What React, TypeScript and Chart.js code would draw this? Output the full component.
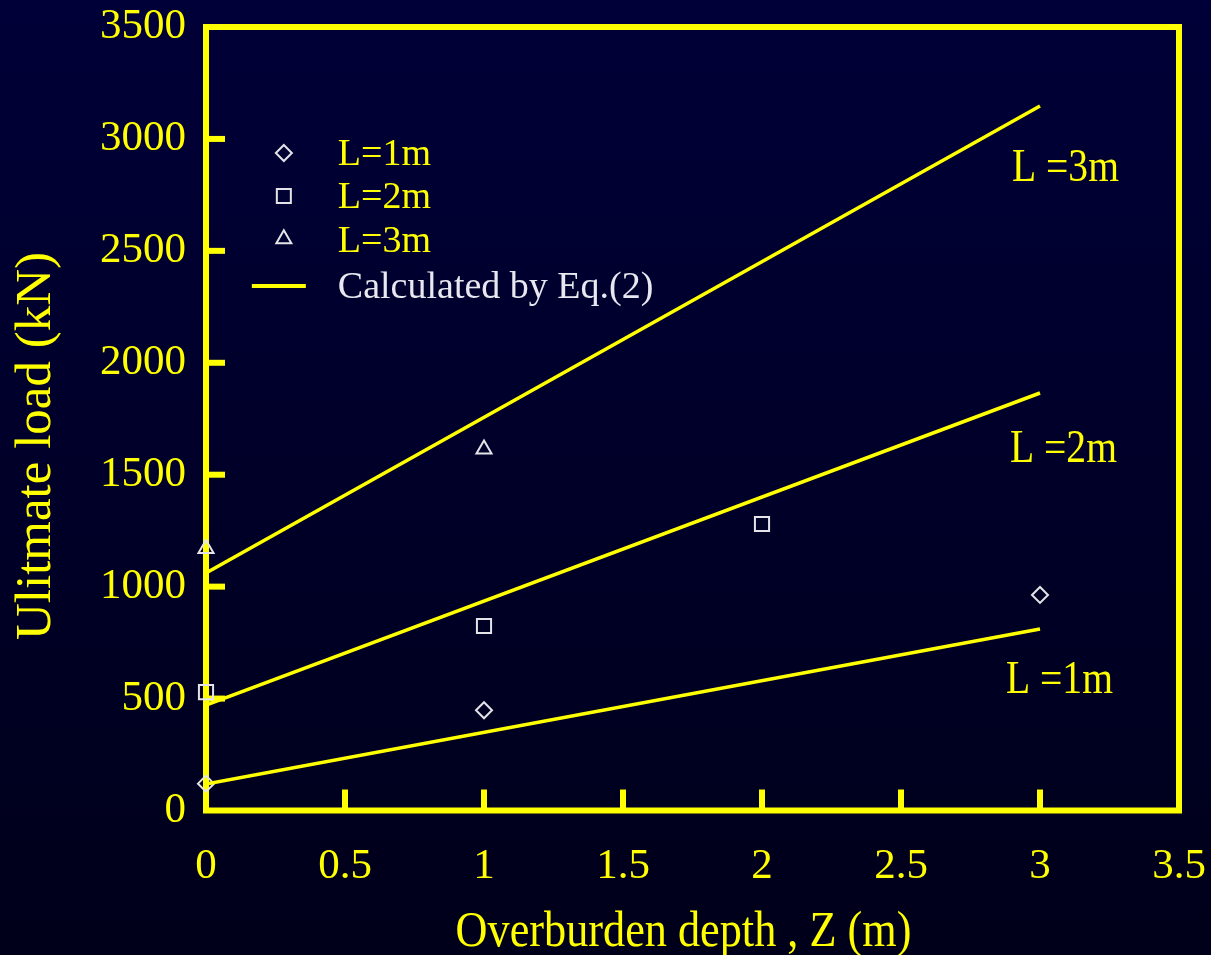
import React, { useEffect, useRef } from "react";
import { Chart, registerables } from "chart.js";

Chart.register(...registerables);

// ---- data ----
const depthL1 = [0, 1, 3];
const loadL1 = [120, 448, 963];
const depthL2 = [0, 1, 2];
const loadL2 = [529, 824, 1280];
const depthL3 = [0, 1];
const loadL3 = [1170, 1614];

const calcDepth = [0, 3];
const calcL1 = [118, 811];
const calcL2 = [471, 1865];
const calcL3 = [1061, 3147];

const xTicks = [0, 0.5, 1, 1.5, 2, 2.5, 3, 3.5];
const yTicks = [0, 500, 1000, 1500, 2000, 2500, 3000, 3500];

const seriesNames = ["L=1m", "L=2m", "L=3m"];
const calcName = "Calculated by Eq.(2)";
const curveLabels = ["L =1m", "L =2m", "L =3m"];
const xTitle = "Overburden depth , Z (m)";
const yTitle = "Ulitmate load (kN)";

const YELLOW = "#ffff00";
const MARK = "#e4e4e8";
const FONT = "'Liberation Serif', 'Times New Roman', serif";

const toPts = (xs: number[], ys: number[]) => xs.map((x, i) => ({ x, y: ys[i] }));

function drawText(
  ctx: CanvasRenderingContext2D,
  text: string,
  x: number,
  y: number,
  size: number,
  color: string,
  align: CanvasTextAlign = "left",
  sx = 1,
  rot = 0
) {
  ctx.save();
  ctx.translate(x, y);
  if (rot) ctx.rotate(rot);
  ctx.scale(sx, 1);
  ctx.font = `${size}px ${FONT}`;
  ctx.fillStyle = color;
  ctx.textAlign = align;
  ctx.textBaseline = "alphabetic";
  ctx.fillText(text, 0, 0);
  ctx.restore();
}

const decorPlugin = {
  id: "decor",
  beforeDraw(chart: any) {
    const { ctx, width, height } = chart;
    const g = ctx.createLinearGradient(0, 0, 0, height);
    g.addColorStop(0, "#000038");
    g.addColorStop(1, "#00001a");
    ctx.save();
    ctx.fillStyle = g;
    ctx.fillRect(0, 0, width, height);
    ctx.restore();
  },
  beforeDatasetsDraw(chart: any) {
    const { ctx, chartArea: a, scales } = chart;
    ctx.save();
    ctx.strokeStyle = YELLOW;
    ctx.lineWidth = 6;
    ctx.lineJoin = "miter";
    ctx.strokeRect(a.left, a.top, a.right - a.left, a.bottom - a.top);
    ctx.lineCap = "butt";
    xTicks.slice(1, -1).forEach((v) => {
      const px = scales.x.getPixelForValue(v);
      ctx.beginPath();
      ctx.moveTo(px, a.bottom);
      ctx.lineTo(px, a.bottom - 21);
      ctx.stroke();
    });
    yTicks.slice(1, -1).forEach((v) => {
      const py = scales.y.getPixelForValue(v);
      ctx.beginPath();
      ctx.moveTo(a.left, py);
      ctx.lineTo(a.left + 19, py);
      ctx.stroke();
    });
    ctx.restore();
  },
  afterDatasetsDraw(chart: any) {
    const { ctx, chartArea: a, scales } = chart;
    // legend
    const lx = scales.x.getPixelForValue(0.28);
    const tx = lx + 54;
    const rows = [153, 196, 239, 286];
    ctx.save();
    ctx.strokeStyle = MARK;
    ctx.lineWidth = 2;
    // diamond
    ctx.beginPath();
    ctx.moveTo(lx, rows[0] - 8);
    ctx.lineTo(lx + 8, rows[0]);
    ctx.lineTo(lx, rows[0] + 8);
    ctx.lineTo(lx - 8, rows[0]);
    ctx.closePath();
    ctx.stroke();
    // square
    ctx.strokeRect(lx - 7, rows[1] - 7, 14, 14);
    // triangle
    ctx.beginPath();
    ctx.moveTo(lx, rows[2] - 8.7);
    ctx.lineTo(lx + 7.5, rows[2] + 4.3);
    ctx.lineTo(lx - 7.5, rows[2] + 4.3);
    ctx.closePath();
    ctx.stroke();
    // line
    ctx.strokeStyle = YELLOW;
    ctx.lineWidth = 4;
    ctx.beginPath();
    ctx.moveTo(lx - 32, rows[3]);
    ctx.lineTo(lx + 22, rows[3]);
    ctx.stroke();
    ctx.restore();
    drawText(ctx, seriesNames[0], tx, 165, 38, YELLOW);
    drawText(ctx, seriesNames[1], tx, 208, 38, YELLOW);
    drawText(ctx, seriesNames[2], tx, 252, 38, YELLOW);
    drawText(ctx, calcName, tx, 298, 38, "#e8e8f0");

    // curve labels
    const clx = scales.x.getPixelForValue(3);
    drawText(ctx, curveLabels[2], clx - 28, 181, 46, YELLOW, "left", 0.86);
    drawText(ctx, curveLabels[1], clx - 30, 462, 46, YELLOW, "left", 0.86);
    drawText(ctx, curveLabels[0], clx - 34, 693, 46, YELLOW, "left", 0.86);

    // axis titles
    drawText(ctx, xTitle, (a.left + a.right) / 2 - 9, 946, 50, YELLOW, "center", 0.885);
    drawText(ctx, yTitle, 50, 446, 51, YELLOW, "center", 1, -Math.PI / 2);
  },
};

export default function App() {
  const ref = useRef<HTMLCanvasElement | null>(null);
  useEffect(() => {
    document.body.style.margin = "0";
    const canvas = ref.current;
    if (!canvas) return;
    const markCommon = {
      showLine: false,
      pointBackgroundColor: "rgba(0,0,0,0)",
      pointBorderColor: MARK,
      pointBorderWidth: 2,
      clip: false as any,
    };
    const lineCommon = {
      showLine: true,
      borderColor: YELLOW,
      borderWidth: 3.5,
      pointRadius: 0,
      pointHoverRadius: 0,
      fill: false,
    };
    const chart = new Chart(canvas, {
      type: "scatter",
      data: {
        datasets: [
          { label: calcName, data: toPts(calcDepth, calcL1), ...lineCommon },
          { label: calcName, data: toPts(calcDepth, calcL2), ...lineCommon },
          { label: calcName, data: toPts(calcDepth, calcL3), ...lineCommon },
          { label: seriesNames[0], data: toPts(depthL1, loadL1), pointStyle: "rectRot", pointRadius: 8, ...markCommon },
          { label: seriesNames[1], data: toPts(depthL2, loadL2), pointStyle: "rect", pointRadius: 10, ...markCommon },
          { label: seriesNames[2], data: toPts(depthL3, loadL3), pointStyle: "triangle", pointRadius: 8.7, ...markCommon },
        ] as any,
      },
      options: {
        responsive: false,
        animation: false,
        layout: { autoPadding: false, padding: { left: 0, top: 27, right: 32, bottom: 0 } },
        plugins: {
          legend: { display: false },
          tooltip: { enabled: false },
        },
        scales: {
          x: {
            type: "linear",
            min: 0,
            max: 3.5,
            afterBuildTicks: (s: any) => {
              s.ticks = xTicks.map((v) => ({ value: v }));
            },
            afterFit: (s: any) => {
              s.height = 144.5;
              s.paddingLeft = 0;
              s.paddingRight = 0;
              s.paddingTop = 0;
              s.paddingBottom = 0;
            },
            ticks: {
              color: YELLOW,
              font: { family: FONT, size: 43 },
              padding: 30,
              maxRotation: 0,
              callback: (v: any) => String(v),
            },
            grid: { display: false, drawTicks: false },
            border: { display: false },
          },
          y: {
            type: "linear",
            min: 0,
            max: 3500,
            afterBuildTicks: (s: any) => {
              s.ticks = yTicks.map((v) => ({ value: v }));
            },
            afterFit: (s: any) => {
              s.width = 206;
              s.paddingLeft = 0;
              s.paddingRight = 0;
              s.paddingTop = 0;
              s.paddingBottom = 0;
            },
            ticks: {
              color: YELLOW,
              font: { family: FONT, size: 43 },
              padding: 20,
              callback: (v: any) => String(v),
            },
            grid: { display: false, drawTicks: false },
            border: { display: false },
          },
        },
      } as any,
      plugins: [decorPlugin],
    });
    return () => chart.destroy();
  }, []);
  return (
    <div style={{ width: 1211, height: 955 }}>
      <canvas ref={ref} width={1211} height={955} style={{ display: "block" }} />
    </div>
  );
}
